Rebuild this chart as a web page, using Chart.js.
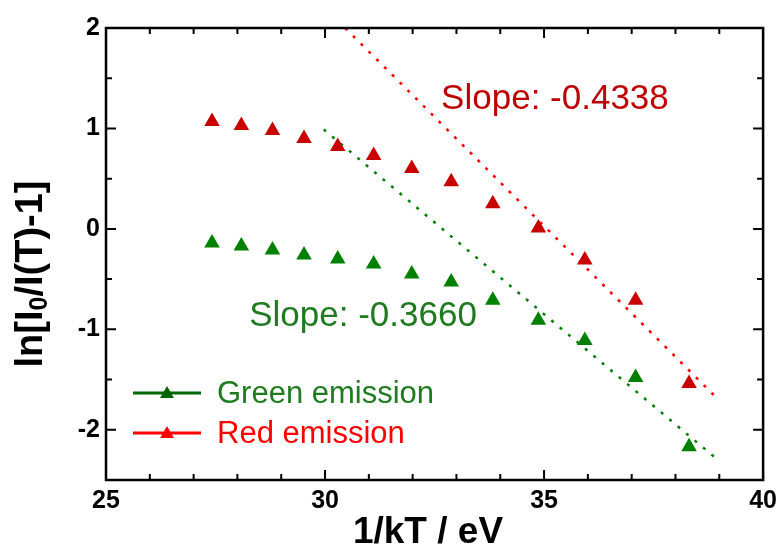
<!DOCTYPE html>
<html>
<head>
<meta charset="utf-8">
<script src="https://cdn.jsdelivr.net/npm/chart.js@4.4.1/dist/chart.umd.min.js"></script>
<style>
  body { margin: 0; background: #fff; }
</style>
</head>
<body>
<canvas id="chart" width="783" height="550"></canvas>
<script>
// 1/kT values (eV^-1), one per measured temperature
let invKT = [27.42, 28.09, 28.80, 29.52, 30.29, 31.11, 31.98, 32.88, 33.83, 34.87, 35.93, 37.09, 38.31];
let redValues = [1.07, 1.03, 0.98, 0.90, 0.82, 0.73, 0.60, 0.47, 0.25, 0.01, -0.31, -0.71, -1.54];
let greenValues = [-0.14, -0.17, -0.21, -0.26, -0.30, -0.35, -0.45, -0.53, -0.71, -0.91, -1.11, -1.48, -2.17];

// end points of the linear fits
let redFitX = [30.46, 38.98];
let redFitY = [2.0, -1.70];
let greenFitX = [29.97, 38.94];
let greenFitY = [0.99, -2.29];

let xTicks = [25, 30, 35, 40];
let yTicks = [-2, -1, 0, 1, 2];
let xMinor = [26, 27, 28, 29, 31, 32, 33, 34, 36, 37, 38, 39];
let yMinor = [-1.5, -0.5, 0.5, 1.5];

const FONT = "'Liberation Sans', Arial, sans-serif";

function pairs(xs, ys) {
    return xs.map((x, i) => ({x: x, y: ys[i]}));
}

// frame on all four sides with inward ticks
const frame = {
    id: 'frame',
    afterDraw(chart) {
        const {ctx, chartArea: a, scales: {x, y}} = chart;
        ctx.save();
        ctx.strokeStyle = '#000';
        ctx.lineWidth = 2.5;
        ctx.strokeRect(a.left, a.top, a.right - a.left, a.bottom - a.top);
        ctx.lineWidth = 2;
        ctx.beginPath();
        const xt = (v, len) => {
            const px = x.getPixelForValue(v);
            ctx.moveTo(px, a.bottom); ctx.lineTo(px, a.bottom - len);
            ctx.moveTo(px, a.top); ctx.lineTo(px, a.top + len);
        };
        const yt = (v, len) => {
            const py = y.getPixelForValue(v);
            ctx.moveTo(a.left, py); ctx.lineTo(a.left + len, py);
            ctx.moveTo(a.right, py); ctx.lineTo(a.right - len, py);
        };
        xTicks.forEach(v => xt(v, 10));
        xMinor.forEach(v => xt(v, 6));
        yTicks.forEach(v => yt(v, 10));
        yMinor.forEach(v => yt(v, 6));
        ctx.stroke();
        ctx.restore();
    }
};

function triangle(ctx, cx, cy, r) {
    ctx.beginPath();
    ctx.moveTo(cx, cy - r);
    ctx.lineTo(cx + r * 0.866, cy + r / 2);
    ctx.lineTo(cx - r * 0.866, cy + r / 2);
    ctx.closePath();
    ctx.fill();
}

// axis titles, slope notes and the legend
const labels = {
    id: 'labels',
    afterDraw(chart) {
        const {ctx, scales: {x, y}} = chart;
        ctx.save();
        ctx.textBaseline = 'alphabetic';

        // x title
        ctx.font = 'bold 37px ' + FONT;
        ctx.fillStyle = '#000';
        ctx.textAlign = 'center';
        ctx.fillText('1/kT / eV', 428, 543);

        // y title with subscript
        ctx.save();
        ctx.translate(42, 274);
        ctx.rotate(-Math.PI / 2);
        ctx.textAlign = 'left';
        const p1 = 'ln[I', p2 = '/I(T)-1]';
        ctx.font = 'bold 38px ' + FONT;
        const w1 = ctx.measureText(p1).width, w2 = ctx.measureText(p2).width;
        ctx.font = 'bold 25px ' + FONT;
        const ws = ctx.measureText('0').width;
        let sx = -(w1 + ws + w2) / 2;
        ctx.font = 'bold 38px ' + FONT;
        ctx.fillText(p1, sx, 0);
        ctx.font = 'bold 25px ' + FONT;
        ctx.fillText('0', sx + w1, 5);
        ctx.font = 'bold 38px ' + FONT;
        ctx.fillText(p2, sx + w1 + ws, 0);
        ctx.restore();

        // slope notes
        ctx.textAlign = 'left';
        ctx.font = '35px ' + FONT;
        ctx.fillStyle = '#c00000';
        ctx.fillText('Slope: -0.4338', x.getPixelForValue(32.65), y.getPixelForValue(1.19));
        ctx.fillStyle = '#1e7b1e';
        ctx.fillText('Slope: -0.3660', x.getPixelForValue(28.27), y.getPixelForValue(-0.97));

        // legend
        const rows = [
            {text: 'Green emission', line: '#006400', text_c: '#1e7b1e', y: 393},
            {text: 'Red emission', line: '#ff0000', text_c: '#ff0000', y: 433}
        ];
        ctx.font = '31px ' + FONT;
        rows.forEach(r => {
            ctx.strokeStyle = r.line;
            ctx.lineWidth = 3;
            ctx.beginPath();
            ctx.moveTo(133, r.y); ctx.lineTo(201, r.y);
            ctx.stroke();
            ctx.fillStyle = r.line;
            triangle(ctx, 167, r.y + 1, 8);
            ctx.fillStyle = r.text_c;
            ctx.fillText(r.text, 217, r.y + 10);
        });
        ctx.restore();
    }
};

new Chart(document.getElementById('chart'), {
    type: 'scatter',
    data: {
        datasets: [
            {
                label: 'Green emission',
                data: pairs(invKT, greenValues),
                pointStyle: 'triangle',
                pointRadius: 9,
                pointBorderWidth: 0,
                backgroundColor: '#008000',
                borderColor: '#008000'
            },
            {
                label: 'Red emission',
                data: pairs(invKT, redValues),
                pointStyle: 'triangle',
                pointRadius: 9,
                pointBorderWidth: 0,
                backgroundColor: '#c80000',
                borderColor: '#c80000'
            },
            {
                label: 'green fit',
                data: pairs(greenFitX, greenFitY),
                showLine: true,
                pointRadius: 0,
                borderColor: '#008000',
                borderWidth: 2.5,
                borderDash: [3, 8]
            },
            {
                label: 'red fit',
                data: pairs(redFitX, redFitY),
                showLine: true,
                pointRadius: 0,
                borderColor: '#ff0000',
                borderWidth: 2.5,
                borderDash: [3, 8]
            }
        ]
    },
    options: {
        responsive: false,
        animation: false,
        layout: {padding: {top: 28, right: 17, left: 0, bottom: 0}},
        plugins: {legend: {display: false}, tooltip: {enabled: false}},
        scales: {
            x: {
                type: 'linear',
                min: 25,
                max: 40,
                afterBuildTicks: s => { s.ticks = xTicks.map(v => ({value: v})); },
                afterFit: s => { s.height = 70; },
                grid: {display: false, drawTicks: false},
                border: {display: false},
                ticks: {
                    padding: 6,
                    color: '#000',
                    font: {family: FONT, size: 25, weight: 'bold'}
                }
            },
            y: {
                type: 'linear',
                min: -2.5,
                max: 2,
                afterBuildTicks: s => { s.ticks = yTicks.map(v => ({value: v})); },
                afterFit: s => { s.width = 106; },
                grid: {display: false, drawTicks: false},
                border: {display: false},
                ticks: {
                    padding: 6,
                    color: '#000',
                    font: {family: FONT, size: 25, weight: 'bold'}
                }
            }
        }
    },
    plugins: [frame, labels]
});
</script>
</body>
</html>
